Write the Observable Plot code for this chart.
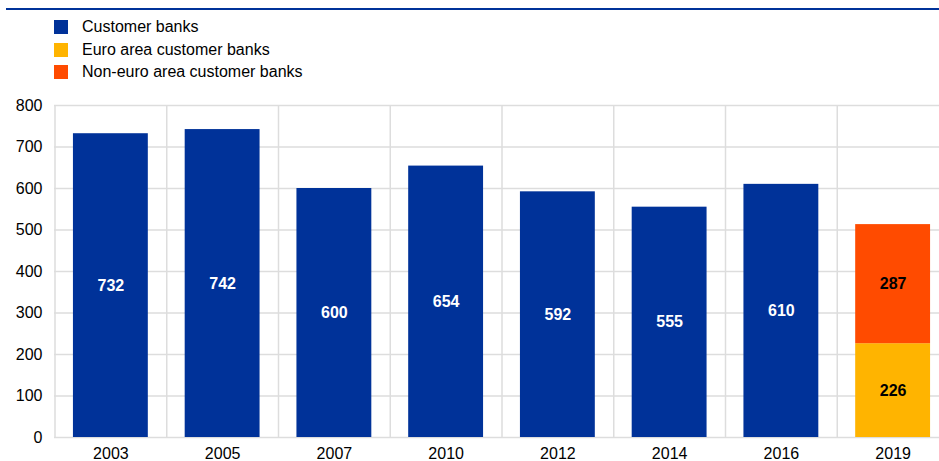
<!DOCTYPE html>
<html><head><meta charset="utf-8">
<script src="https://cdn.jsdelivr.net/npm/d3@7"></script>
<script src="https://cdn.jsdelivr.net/npm/@observablehq/plot@0.6"></script>
<style>
body{margin:0;background:#fff;font-family:"Liberation Sans",Arial,sans-serif;overflow:hidden;width:939px;height:461px;position:relative}
#topline{position:absolute;left:6px;top:8px;width:933px;height:2px;background:#003299}
#legend{position:absolute;left:54px;top:16px}
.item{display:flex;align-items:center;height:22.5px;font-size:16px;color:#000;white-space:nowrap}
.sw{width:14px;height:14px;margin-right:14px;flex:none}
#chart{position:absolute;left:0;top:90px}
</style></head>
<body>
<div id="topline"></div>
<div id="legend"></div>
<div id="chart"></div>
<script>
const years = ["2003","2005","2007","2010","2012","2014","2016","2019"];
const seriesNames = ["Customer banks","Euro area customer banks","Non-euro area customer banks"];
const seriesColors = ["#003299","#ffb400","#ff4b00"];
const customerBanks = [732,742,600,654,592,555,610,null];
const euroArea = [null,null,null,null,null,null,null,226];
const nonEuroArea = [null,null,null,null,null,null,null,287];
const yTicks = [0,100,200,300,400,500,600,700,800];

const seriesValues = [customerBanks, euroArea, nonEuroArea];
const rows = [];
years.forEach((yr, i) => {
  seriesValues.forEach((vals, s) => {
    if (vals[i] != null) rows.push({year: yr, series: seriesNames[s], value: vals[i]});
  });
});

// legend
const legend = document.getElementById("legend");
seriesNames.forEach((name, i) => {
  const it = document.createElement("div");
  it.className = "item";
  const sw = document.createElement("div");
  sw.className = "sw";
  sw.style.background = seriesColors[i];
  const t = document.createElement("span");
  t.textContent = name;
  it.appendChild(sw); it.appendChild(t);
  legend.appendChild(it);
});

const xRange = [54.5, 948.5];
const step = (xRange[1] - xRange[0]) / years.length;
const gridColor = "#dddddd";

const chart = Plot.plot({
  width: 939,
  height: 371,
  marginTop: 15,
  marginBottom: 24,
  marginLeft: 54,
  marginRight: 0,
  style: {fontFamily: "'Liberation Sans', Arial, sans-serif", fontSize: "16px", color: "#000", background: "#fff", overflow: "visible"},
  x: {domain: years, range: xRange, paddingInner: 0.33, paddingOuter: 0.165, round: false, label: null},
  y: {domain: [0, 800], label: null},
  color: {domain: seriesNames, range: seriesColors},
  marks: [
    Plot.gridY(yTicks, {stroke: gridColor, strokeOpacity: 1, strokeWidth: 1.5}),
    Plot.ruleX(years, {x: d => d, dx: -step / 2, y1: 0, y2: 800, stroke: gridColor, strokeOpacity: 1, strokeWidth: 1.5}),
    Plot.barY(rows, {x: "year", y: "value", fill: "series", order: seriesNames}),
    Plot.text(rows, Plot.stackY({x: "year", y: "value", z: "series", order: seriesNames, text: d => String(d.value),
      fill: d => d.series === seriesNames[0] ? "#ffffff" : "#000000", fontWeight: "bold", fontSize: 16})),
    Plot.axisY(yTicks, {tickSize: 0, tickPadding: 12, fontSize: 16, label: null}),
    Plot.axisX({tickSize: 0, tickPadding: 10, fontSize: 16, label: null})
  ]
});
document.getElementById("chart").appendChild(chart);
</script>
</body></html>
